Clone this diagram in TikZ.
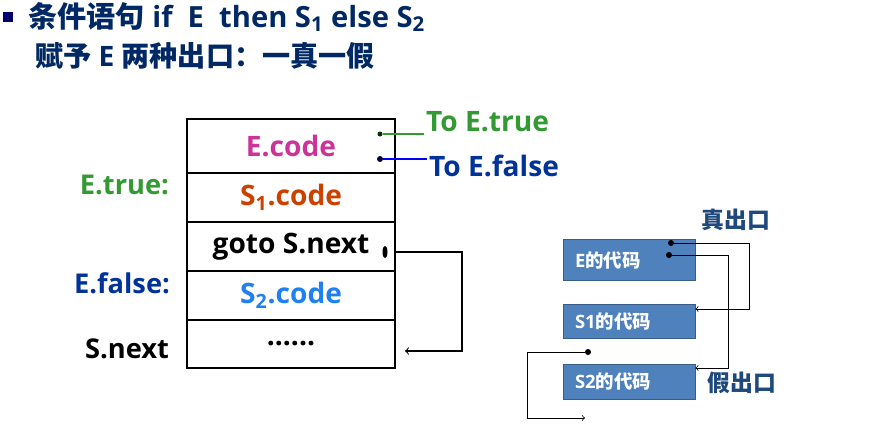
\documentclass[tikz,border=0pt]{standalone}
\usepackage{fontspec}
\setmainfont{Open Sans}
\newfontfamily\cjk{Noto Sans CJK SC}
\usepackage{xcolor}
\usepackage{tikz}
\usetikzlibrary{positioning,shapes,arrows,calc}
\definecolor{titleblue}{RGB}{0,40,100}
\definecolor{bulletblue}{RGB}{0,0,110}
\definecolor{codemagenta}{RGB}{204,51,153}
\definecolor{sonered}{RGB}{204,64,0}
\definecolor{stwoblue}{RGB}{32,128,240}
\definecolor{truegreen}{RGB}{51,153,51}
\definecolor{falseblue}{RGB}{0,51,153}
\definecolor{boxblue}{RGB}{79,129,189}
\definecolor{boxedge}{RGB}{56,93,138}
\definecolor{exitblue}{RGB}{31,73,125}

\begin{document}
\begin{tikzpicture}[node distance=0pt, auto]
    \tikzstyle{row} = [rectangle, draw, semithick, outer sep=0pt, minimum width=4.16cm, minimum height=0.98cm, inner sep=0pt, text centered, font=\fontsize{16}{19}\selectfont\bfseries]
    \tikzstyle{lbl} = [inner sep=1pt, font=\fontsize{16}{19}\selectfont\bfseries]
    \tikzstyle{blk} = [rectangle, draw=boxedge, fill=boxblue, minimum width=2.64cm, inner xsep=0.24cm, inner ysep=0pt, text width=2.16cm, align=left, text=white, font=\fontsize{10.5}{12}\selectfont\bfseries]
    \tikzstyle{dot} = [circle, fill=black, inner sep=0pt, minimum size=0.12cm]
    \useasboundingbox (0,0) rectangle (17.48,-8.54);

    % Title
    \node [rectangle, fill=bulletblue, minimum size=0.19cm, inner sep=0pt] (bullet) at (0.16,-0.34) {};
    \node [lbl, anchor=west, text=titleblue, font=\fontsize{16.6}{19}\selectfont\bfseries] (title) at (0.52,-0.34) {{\cjk 条件语句} if\ \ E\ \ then S\textsubscript{1} else S\textsubscript{2}};
    \node [lbl, anchor=west, text=titleblue] (subtitle) at (0.66,-1.12) {{\cjk 赋予} E {\cjk 两种出口：一真一假}};

    % Code layout
    \node [row, minimum height=1.08cm, text=codemagenta] (ecode) at (5.82,-2.92) {E.code};
    \node [row, below=of ecode, text=sonered] (sone) {S\textsubscript{1}.code};
    \node [row, below=of sone] (gotonext) {goto S.next};
    \node [row, below=of gotonext, text=stwoblue] (stwo) {S\textsubscript{2}.code};
    \node [row, below=of stwo, minimum height=0.96cm] (snext) {......};

    % Labels on the left
    \node [lbl, anchor=east, text=truegreen, font=\fontsize{15.5}{18}\selectfont\bfseries] (etrue) at (3.42,-3.70) {E.true:};
    \node [lbl, anchor=east, text=falseblue, font=\fontsize{15.5}{18}\selectfont\bfseries] (efalse) at (3.44,-5.66) {E.false:};
    \node [lbl, anchor=east, font=\fontsize{15.5}{18}\selectfont\bfseries] (snextlbl) at (3.42,-6.98) {S.next};

    % Exits of E.code
    \node [lbl, anchor=west, text=truegreen] (totrue) at (8.48,-2.44) {To E.true};
    \node [lbl, anchor=west, text=falseblue] (tofalse) at (8.54,-3.32) {To E.false};
    \node [dot, minimum size=0.1cm, fill=black!80!green] (tdot) at (7.60,-2.68) {};
    \node [dot, minimum size=0.12cm, fill=black!70!blue] (fdot) at (7.60,-3.18) {};
    \draw [truegreen, semithick] (tdot) -- (tdot -| totrue.west);
    \draw [blue, semithick] (fdot) -- (fdot -| tofalse.west);

    % goto jump
    \node [ellipse, fill=black, inner sep=0pt, minimum width=0.1cm, minimum height=0.25cm] (gdot) at (7.70,-5.04) {};
    \coordinate (gend) at (8.10,-7.02);
    \draw [->, semithick] (gdot -| gotonext.east) -| (9.24,-7.02) -- (gend);

    % Flow of the code blocks
    \node [blk, minimum height=0.82cm] (eblk) at (12.58,-5.20) {E{\cjk 的代码}};
    \node [blk, minimum height=0.68cm] (soneblk) at (12.58,-6.42) {S1{\cjk 的代码}};
    \node [blk, minimum height=0.70cm] (stwoblk) at (12.58,-7.63) {S2{\cjk 的代码}};
    \node [lbl, text=exitblue, font=\fontsize{13}{15}\selectfont\bfseries\cjk] (truexit) at (14.72,-4.40) {真出口};
    \node [lbl, text=exitblue, font=\fontsize{13}{15}\selectfont\bfseries\cjk] (falsexit) at (14.84,-7.66) {假出口};
    \node [dot] (dtrue) at (13.42,-4.86) {};
    \node [dot] (dfalse) at (13.38,-5.10) {};
    \node [dot] (dnext) at (11.76,-7.04) {};
    \coordinate (nextend) at (11.70,-8.36);

    \draw [->] (dtrue) -- (14.98,-4.86) |- ([yshift=0.24cm]soneblk.east);
    \draw [->] (dfalse) -- (14.56,-5.10) |- ([yshift=0.27cm]stwoblk.east);
    \draw [->] (dnext) -- (10.54,-7.04) |- (nextend);
\end{tikzpicture}
\end{document}
